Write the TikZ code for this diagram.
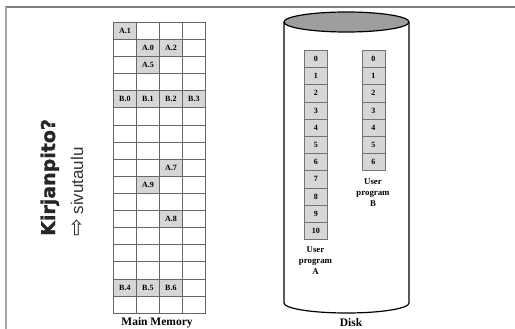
\documentclass[tikz,border=0pt]{standalone}
\usepackage{fontspec}
\setmainfont{Liberation Serif}
\newfontfamily\lsans{Liberation Sans}
\newfontfamily\dvbold{DejaVu Sans}
\newfontfamily\kfont{DejaVu Sans}[FakeBold=1.3]
\begin{document}
\begin{tikzpicture}[x=1pt,y=-1pt,
  mcell/.style={draw=black!60, line width=0.8pt, minimum width=23pt, minimum height=17.1pt, inner sep=0pt, anchor=north west, font=\fontsize{8}{9}\selectfont\bfseries},
  shade/.style={fill=black!16},
  dcell/.style={draw=black!55, fill=black!16, line width=0.7pt, minimum width=23pt, minimum height=17.2pt, inner sep=0pt, anchor=north west, font=\fontsize{8}{9}\selectfont\bfseries},
  captext/.style={font=\fontsize{11.5}{13}\selectfont\bfseries},
  prog/.style={font=\fontsize{8.8}{11}\selectfont\bfseries, align=center}]
\useasboundingbox (0,0) rectangle (515,329);
% frame
\draw[black!50, line width=1.4pt] (5,7) -- (515,7);
\draw[black!35, line width=2pt] (6,7) -- (6,329);
% side text
\node[rotate=90, anchor=base west, text=black!85, inner sep=0pt] (kp) at (55,236) {\kfont\fontsize{19}{20}\selectfont\bfseries Kirjanpito?};
\node[rotate=90, anchor=base west, text=black!80, inner sep=0pt] (st) at (83,237) {\dvbold\fontsize{21}{22}\selectfont ⇨\lsans\fontsize{17}{18}\selectfont\ sivutaulu};
% main memory grid
\foreach \r in {0,...,16} {
  \foreach \c in {0,...,3} {
    \node[mcell] (m-\r-\c) at ({113+23*\c},{22+17.1*\r}) {};
  }
}
\foreach \r/\c/\t in {0/0/A.1, 1/1/A.0, 1/2/A.2, 2/1/A.5, 4/0/B.0, 4/1/B.1, 4/2/B.2, 4/3/B.3, 8/2/A.7, 9/1/A.9, 11/2/A.8, 15/0/B.4, 15/1/B.5, 15/2/B.6} {
  \node[mcell, shade] (s-\r-\c) at (m-\r-\c.north west) {\t};
}
\node[captext] (mm) at (157,323) {Main Memory};
% disk
\draw[line width=1.2pt, fill=white] (284,22) -- (284,303) arc[start angle=180, end angle=360, x radius=62.5, y radius=-10] -- (409,22);
\draw[line width=1.2pt, fill=black!38] (346.5,22) ellipse[x radius=62.5, y radius=10];
\foreach \i in {0,...,10} {
  \node[dcell] (a\i) at (304,{50+17.2*\i}) {\i};
}
\foreach \i in {0,...,6} {
  \node[dcell] (b\i) at (361.5,{50+17.2*\i}) {\i};
}
\node[prog] (pa) at (315.5,261) {User\\program\\A};
\node[prog] (pb) at (373,193) {User\\program\\B};
\node[captext] (dk) at (351,323) {Disk};
\end{tikzpicture}
\end{document}
